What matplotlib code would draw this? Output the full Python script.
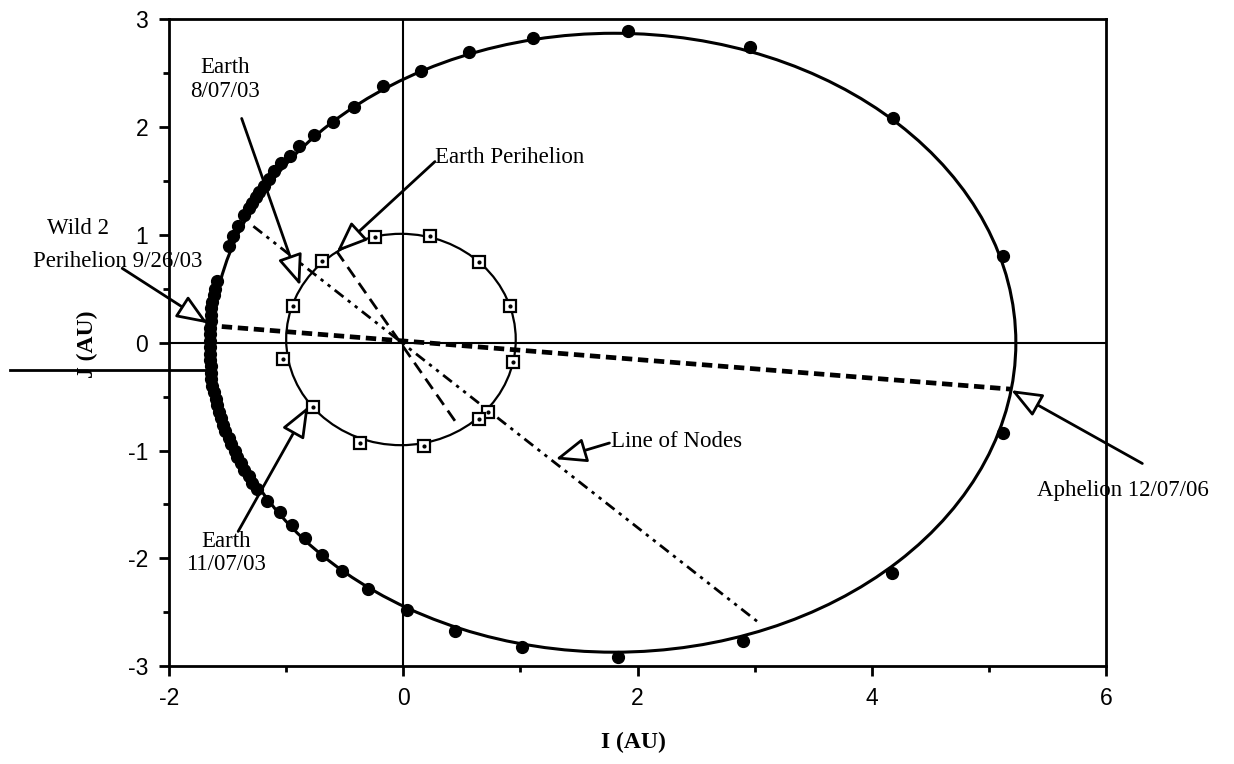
import matplotlib.pyplot as plt
from matplotlib.patches import Ellipse, Circle

plt.rcParams["axes.unicode_minus"] = False

# Wild 2 orbit positions (filled dots)
wild2_i = [5.12, 4.18, 2.96, 1.92, 1.11, 0.56, 0.15, -0.17, -0.42, -0.60, -0.76,
           -0.89, -0.97, -1.04, -1.10,
           -1.15, -1.19, -1.23, -1.26, -1.29, -1.32, -1.36, -1.41, -1.45, -1.49,
           -1.59, -1.61, -1.62, -1.63, -1.64, -1.64, -1.645, -1.65, -1.65, -1.65,
           -1.65, -1.65, -1.65, -1.645, -1.64, -1.64, -1.63, -1.62, -1.60, -1.59,
           -1.57, -1.56, -1.54, -1.52, -1.49, -1.47, -1.44, -1.42, -1.39, -1.36,
           -1.32, -1.29, -1.25,
           -1.16, -1.05, -0.95, -0.84, -0.69, -0.52, -0.30, 0.03, 0.44, 1.01,
           1.83, 2.90, 4.17, 5.12]
wild2_j = [0.80, 2.08, 2.74, 2.89, 2.83, 2.70, 2.52, 2.38, 2.19, 2.05, 1.93,
           1.82, 1.73, 1.67, 1.59,
           1.52, 1.45, 1.40, 1.35, 1.30, 1.25, 1.18, 1.08, 0.99, 0.90,
           0.57, 0.50, 0.44, 0.38, 0.32, 0.26, 0.20, 0.14, 0.08, 0.02,
           -0.04, -0.10, -0.16, -0.22, -0.28, -0.34, -0.40, -0.46, -0.52, -0.58,
           -0.64, -0.70, -0.76, -0.82, -0.88, -0.94, -1.00, -1.06, -1.12, -1.18,
           -1.24, -1.30, -1.36,
           -1.47, -1.57, -1.69, -1.81, -1.97, -2.12, -2.28, -2.48, -2.67, -2.82,
           -2.91, -2.77, -2.14, -0.84]

# Earth positions (open squares)
earth_i = [-0.24, 0.23, 0.65, 0.91, 0.94, 0.72, 0.65, 0.18, -0.37, -0.77, -1.03, -0.94, -0.69]
earth_j = [0.98, 0.99, 0.75, 0.34, -0.18, -0.64, -0.71, -0.96, -0.93, -0.60, -0.15, 0.34, 0.76]

# fitted orbit shapes
wild2_center = (1.80, 0.0)
wild2_width, wild2_height = 6.86, 5.74
earth_center = (-0.02, 0.03)
earth_radius = 0.98

# reference lines
apse_i, apse_j = [-1.55, 5.18], [0.15, -0.43]
earth_peri_i, earth_peri_j = [-0.57, 0.47], [0.85, -0.77]
nodes_i, nodes_j = [-1.28, 3.04], [1.08, -2.60]

serif = "Liberation Serif"

fig = plt.figure(figsize=(12.34, 7.64), dpi=100)
ax = fig.add_axes([0.137, 0.128, 0.7593, 0.8468])

ax.set_xlim(-2, 6)
ax.set_ylim(-3, 3)
ax.set_xticks([-2, 0, 2, 4, 6])
ax.set_xticks([-1, 1, 3, 5], minor=True)
ax.set_yticks([-3, -2, -1, 0, 1, 2, 3])
ax.set_yticks([-2.5, -1.5, -0.5, 0.5, 1.5, 2.5], minor=True)
ax.tick_params(which="major", direction="out", length=7, width=2,
               labelsize=16.5, pad=8)
ax.tick_params(which="minor", direction="out", length=4, width=2)
for lab in ax.get_xticklabels() + ax.get_yticklabels():
    lab.set_fontfamily("Liberation Sans")
for s in ax.spines.values():
    s.set_linewidth(2)

ax.axhline(0, color="black", lw=1.5, zorder=1)
ax.axvline(0, color="black", lw=1.5, zorder=1)

ax.add_patch(Ellipse(wild2_center, wild2_width, wild2_height, fill=False,
                     ec="black", lw=2.2, zorder=2))
ax.add_patch(Circle(earth_center, earth_radius, fill=False, ec="black",
                    lw=1.6, zorder=2))

ax.plot(apse_i, apse_j, color="black", lw=3.4, ls=(0, (2.2, 1.2)), zorder=3)
ax.plot(earth_peri_i, earth_peri_j, color="black", lw=2, ls=(0, (4.5, 2.5)), zorder=3)
ax.plot(nodes_i, nodes_j, color="black", lw=2,
        ls=(0, (4, 2, 1.2, 2, 1.2, 2)), zorder=3)

ax.plot(wild2_i, wild2_j, "o", color="black", ms=8.5, zorder=4, clip_on=False)
ax.plot(earth_i, earth_j, "s", mfc="white", mec="black", mew=1.6, ms=8.5, zorder=5)
ax.plot(earth_i, earth_j, "o", color="black", ms=2, zorder=6)

# stray horizontal stroke on the left
ax.plot([-3.36, -1.67], [-0.25, -0.25], color="black", lw=2, clip_on=False, zorder=3)

arrow = dict(arrowstyle="-|>,head_length=0.95,head_width=0.38", fc="white",
             ec="black", lw=2, mutation_scale=20, shrinkA=0, shrinkB=0)

ax.annotate("", xy=(-0.88, 0.53), xytext=(-1.38, 2.08), arrowprops=arrow,
            annotation_clip=False)
ax.text(-1.52, 2.44, "Earth\n8/07/03", family=serif, fontsize=16.5,
        ha="center", va="center", linespacing=1.15)

ax.annotate("", xy=(-0.57, 0.84), xytext=(0.27, 1.68), arrowprops=arrow)
ax.text(0.27, 1.72, "Earth Perihelion", family=serif, fontsize=16.5,
        ha="left", va="center")

ax.annotate("", xy=(-1.67, 0.18), xytext=(-2.40, 0.69), arrowprops=arrow,
            annotation_clip=False)
ax.text(-2.78, 1.06, "Wild 2", family=serif, fontsize=16.5, ha="center",
        va="center", clip_on=False)
ax.text(-2.44, 0.75, "Perihelion 9/26/03", family=serif, fontsize=16.5,
        ha="center", va="center", clip_on=False)

ax.annotate("", xy=(-0.81, -0.59), xytext=(-1.41, -1.75), arrowprops=arrow)
ax.text(-1.51, -1.95, "Earth\n11/07/03", family=serif, fontsize=16.5,
        ha="center", va="center", linespacing=1.15)

ax.annotate("", xy=(1.30, -1.08), xytext=(1.76, -0.93), arrowprops=arrow)
ax.text(1.77, -0.92, "Line of Nodes", family=serif, fontsize=16.5,
        ha="left", va="center")

ax.annotate("", xy=(5.19, -0.44), xytext=(6.31, -1.12), arrowprops=arrow,
            annotation_clip=False)
ax.text(5.41, -1.37, "Aphelion 12/07/06", family=serif, fontsize=16.5,
        ha="left", va="center", clip_on=False)

fig.text(0.513, 0.028, "I (AU)", family=serif, fontsize=17, fontweight="bold",
         ha="center", va="center")
fig.text(0.071, 0.55, "J (AU)", family=serif, fontsize=17, fontweight="bold",
         ha="center", va="center", rotation=90)

fig.savefig("out.png", dpi=100)
